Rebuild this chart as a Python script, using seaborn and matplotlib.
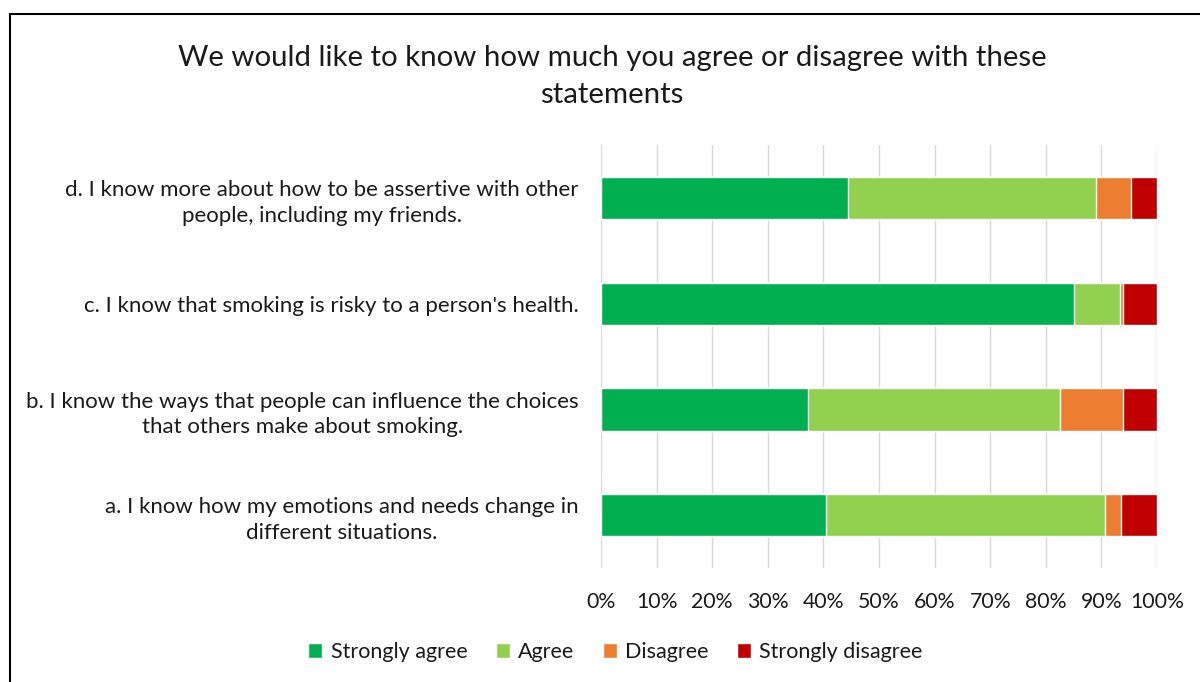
import numpy as np
import pandas as pd
import seaborn as sns
from matplotlib import pyplot as plt
from matplotlib.patches import Patch, Rectangle

statements = [
    "d. I know more about how to be assertive with other\npeople, including my friends.",
    "c. I know that smoking is risky to a person's health.",
    "b. I know the ways that people can influence the choices\nthat others make about smoking.",
    "a. I know how my emotions and needs change in\ndifferent situations.",
]
strongly_agree = [44.4, 85.0, 37.3, 40.5]
agree = [44.6, 8.3, 45.3, 50.1]
disagree = [6.3, 0.5, 11.2, 2.9]
strongly_disagree = [4.7, 6.2, 6.2, 6.5]

series = ["Strongly agree", "Agree", "Disagree", "Strongly disagree"]
colors = ["#00B050", "#92D050", "#ED7D31", "#C00000"]
ticks = np.arange(0, 101, 10)

sns.set_style("white")
plt.rcParams["font.family"] = ["Lato", "DejaVu Sans"]

df = pd.DataFrame({"statement": statements,
                   "Strongly agree": strongly_agree,
                   "Agree": agree,
                   "Disagree": disagree,
                   "Strongly disagree": strongly_disagree})
cum = df[series].cumsum(axis=1)

fig = plt.figure(figsize=(12, 6.82), dpi=100)
ax = fig.add_axes([0.5008, 0.167, 0.4634, 0.62])

# stacked bars: draw the cumulative totals back to front
for name, col in reversed(list(zip(series, colors))):
    sns.barplot(x=cum[name], y=df["statement"], color=col, width=0.4,
                saturation=1, ax=ax, zorder=3)

ax.set_xlim(0, 100)
ax.set_xticks(ticks)
ax.set_xticklabels([f"{t}%" for t in ticks], fontsize=15.3, color="#1a1a1a")
ax.xaxis.grid(True, color="#D9D9D9", linewidth=1, zorder=0)
ax.set_axisbelow(True)
ax.set_xlabel("")
ax.set_ylabel("")
ax.tick_params(axis="both", length=0)
ax.tick_params(axis="x", pad=17)
ax.tick_params(axis="y", pad=16)
for lab in ax.get_yticklabels():
    lab.set_fontsize(16)
    lab.set_color("#1a1a1a")
    lab.set_multialignment("center")
    lab.set_linespacing(1.35)
sns.despine(ax=ax, left=True, bottom=True)

fig.text(0.51, 0.888, "We would like to know how much you agree or disagree with these\nstatements",
         ha="center", va="center", fontsize=21.2, linespacing=1.5, color="#1a1a1a")

handles = [Patch(facecolor=c, label=s) for s, c in zip(series, colors)]
fig.legend(handles=handles, loc="center", bbox_to_anchor=(0.513, 0.044), ncol=4,
           frameon=False, fontsize=15.5, handlelength=0.65, handleheight=0.65,
           handletextpad=0.4, columnspacing=1.3, labelcolor="#1a1a1a")

fig.add_artist(Rectangle((0.0083, -0.1), 1.2, 1.0795, transform=fig.transFigure,
                         fill=False, edgecolor="black", linewidth=1.5, clip_on=False))

fig.savefig("out.png", dpi=100)
